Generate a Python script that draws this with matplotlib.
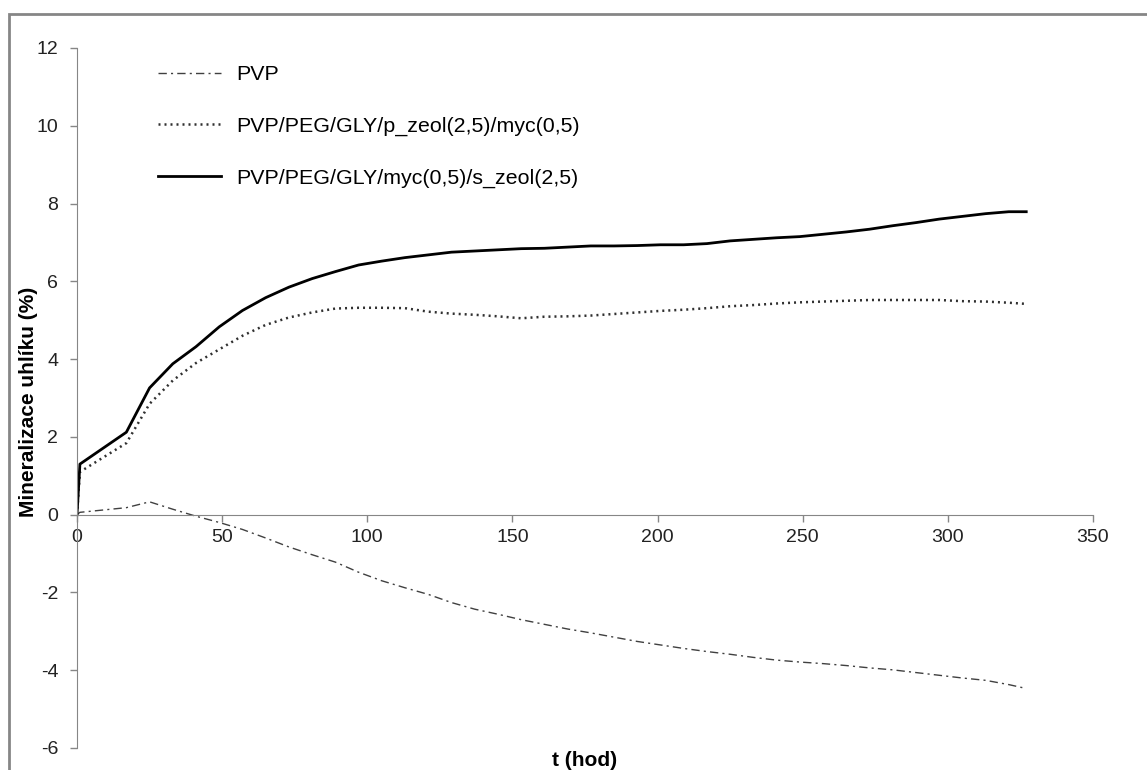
"""Carbon mineralisation over time for PVP films (line chart)."""

import matplotlib

matplotlib.use("Agg")
import matplotlib.pyplot as plt
from matplotlib.patches import Rectangle

plt.rcParams["font.family"] = ["Liberation Sans", "DejaVu Sans"]
plt.rcParams["axes.unicode_minus"] = False

# time points (h)
hours = [0, 1, 17, 25, 33, 41, 49, 57, 65, 73, 81, 89, 97, 105, 113, 121, 129,
         137, 145, 153, 161, 169, 177, 185, 193, 201, 209, 217, 225, 233, 241,
         249, 257, 265, 273, 281, 289, 297, 305, 313, 321, 327]

pvp = [0, 0.06, 0.18, 0.33, 0.14, -0.04, -0.2, -0.38, -0.6, -0.83, -1.03,
       -1.22, -1.48, -1.7, -1.88, -2.05, -2.26, -2.43, -2.56, -2.7, -2.82,
       -2.94, -3.04, -3.15, -3.26, -3.35, -3.44, -3.52, -3.59, -3.67, -3.74,
       -3.79, -3.83, -3.88, -3.94, -3.99, -4.06, -4.13, -4.2, -4.26, -4.37, -4.47]

p_zeol = [0, 1.1, 1.84, 2.85, 3.45, 3.9, 4.25, 4.6, 4.88, 5.07, 5.2, 5.3,
          5.32, 5.32, 5.31, 5.22, 5.17, 5.14, 5.1, 5.05, 5.09, 5.1, 5.12, 5.16,
          5.2, 5.24, 5.27, 5.31, 5.36, 5.39, 5.43, 5.46, 5.48, 5.5, 5.52, 5.52,
          5.52, 5.52, 5.49, 5.48, 5.45, 5.42]

s_zeol = [0, 1.3, 2.12, 3.26, 3.88, 4.32, 4.83, 5.25, 5.58, 5.85, 6.07, 6.25,
          6.42, 6.52, 6.61, 6.68, 6.75, 6.78, 6.81, 6.84, 6.85, 6.88, 6.91,
          6.91, 6.92, 6.94, 6.94, 6.97, 7.04, 7.08, 7.12, 7.15, 7.21, 7.27,
          7.34, 7.43, 7.51, 7.60, 7.67, 7.74, 7.79, 7.79]

labels = ["PVP", "PVP/PEG/GLY/p_zeol(2,5)/myc(0,5)", "PVP/PEG/GLY/myc(0,5)/s_zeol(2,5)"]

W, H = 1147, 770
fig = plt.figure(figsize=(W / 100, H / 100), dpi=100)
ax = fig.add_axes([77 / W, 1 - 748 / H, 1016 / W, 700 / H])

ax.plot(hours, pvp, color="#404040", linewidth=1.0,
        dashes=(6, 3, 1.5, 3), label=labels[0])
ax.plot(hours, p_zeol, color="#303030", linewidth=1.8,
        dashes=(0.8, 1.6), label=labels[1])
ax.plot(hours, s_zeol, color="black", linewidth=2.0, label=labels[2])

ax.set_xlim(0, 350)
ax.set_ylim(-6, 12)
ax.set_xticks(range(0, 351, 50))
ax.set_yticks(range(-6, 13, 2))

axis_grey = "#868686"
for side in ("top", "right"):
    ax.spines[side].set_visible(False)
ax.spines["left"].set_color(axis_grey)
ax.spines["bottom"].set_color(axis_grey)
ax.spines["bottom"].set_position(("data", 0))
ax.tick_params(axis="both", colors=axis_grey, length=5, width=1,
               labelsize=14, labelcolor="#222222")
ax.tick_params(axis="x", pad=5)
ax.tick_params(axis="y", pad=8.5)

ax.set_ylabel("Mineralizace uhlíku (%)", fontsize=15, fontweight="bold")
ax.yaxis.set_label_coords(-0.038, 0.494)
fig.text(585 / W, 1 - 761 / H, "t (hod)", fontsize=15, fontweight="bold",
         ha="center", va="center")

ax.legend(loc="upper left", bbox_to_anchor=(81 / 1016, 1 - 17 / 700),
          frameon=False, fontsize=15.4, handlelength=2.95, handletextpad=0.7,
          labelspacing=1.52, borderaxespad=0, borderpad=0)

# outer chart frame (extends beyond the right and bottom image edges)
fig.patches.append(Rectangle((9 / W, -0.1), 2.0, 1.1 - 14 / H,
                             transform=fig.transFigure, fill=False,
                             edgecolor=axis_grey, linewidth=2.0))

fig.savefig("out.png", dpi=100)
